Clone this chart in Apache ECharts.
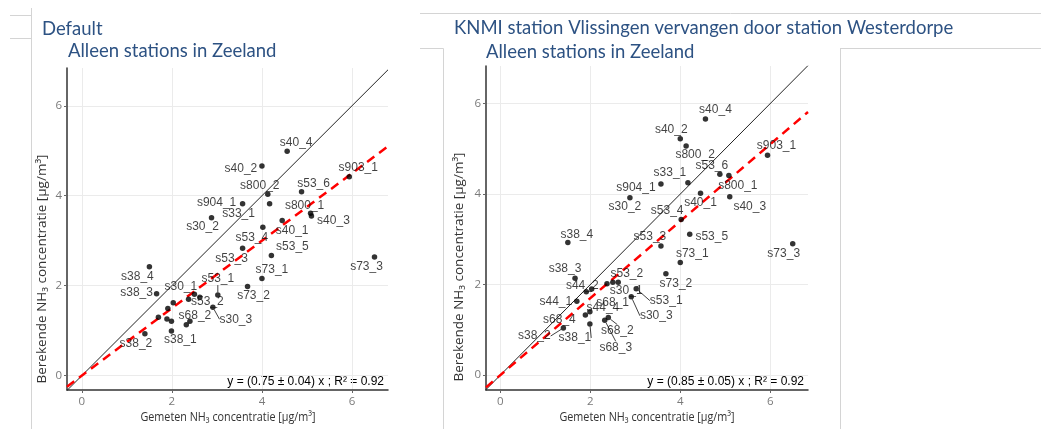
<!DOCTYPE html>
<html>
<head>
<meta charset="utf-8">
<title>NH3 Zeeland</title>
<script src="https://cdn.jsdelivr.net/npm/echarts@6/dist/echarts.min.js"></script>
<style>
html,body{margin:0;padding:0;background:#fff;}
#chart{width:1041px;height:429px;}
</style>
</head>
<body>
<div id="chart"></div>
<script>
// meetstations, zelfde volgorde in alle arrays
var stations = ['s40_4','s40_2','s903_1','s53_6','s800_2','s904_1','s33_1','s800_1','s40_3','s30_2','s40_1',
  's53_4','s53_3','s53_5','s73_3','s38_4','s73_1','s73_2','s38_3','s53_1','s53_2','s30_1','s44_3','s68_1',
  's30_3','s44_2','s44_1','s68_4','s44_4','s68_2','s68_3','s38_1','s38_2'];
// gemeten NH3 (x)
var gemeten = [4.56,4.00,5.94,4.88,4.13,3.57,4.17,5.08,5.10,2.88,4.45,
  4.02,3.57,4.21,6.50,1.50,4.00,3.68,1.66,3.02,2.50,2.62,2.37,2.03,
  2.91,1.91,1.70,1.89,1.99,2.40,2.32,1.99,1.40];
// berekend, default
var berekendDefault = [4.99,4.66,4.42,4.09,4.03,3.82,3.82,3.61,3.55,3.51,3.45,
  3.30,2.83,2.67,2.64,2.42,2.16,1.98,1.82,1.79,1.81,1.74,1.70,1.62,
  1.52,1.49,1.30,1.26,1.21,1.21,1.13,0.99,0.93];
// berekend, KNMI Westerdorpe
var berekendWesterdorpe = [5.66,5.22,4.86,4.44,5.06,4.22,4.25,4.41,3.94,3.92,4.02,
  3.44,2.85,3.11,2.90,2.93,2.49,2.24,2.14,1.91,2.05,2.05,2.02,1.90,
  1.73,1.84,1.63,1.33,1.40,1.27,1.21,1.13,1.04];
var tickValues = [0, 2, 4, 6];
var slopeDefault = 0.75;
var slopeWesterdorpe = 0.85;
var eqDefault = 'y = (0.75 \u00b1 0.04) x ; R\u00b2 = 0.92';
var eqWesterdorpe = 'y = (0.85 \u00b1 0.05) x ; R\u00b2 = 0.92';
var hiddenDefault = ['s44_3','s68_1','s44_2','s44_1','s68_4','s44_4','s68_3'];
var hiddenWesterdorpe = ['s44_3'];

// label verschuiving (ggrepel-achtig): [dx, dy, lijntje]
var nudgeDefault = {
  s40_4:[9,-9], s40_2:[-21,3], s903_1:[9,-9], s53_6:[12,-8], s800_2:[-8,-9], s904_1:[-26,-1],
  s33_1:[-31,10], s800_1:[-6,-8], s40_3:[22,5], s30_2:[-9,9], s40_1:[10,10], s53_4:[-11,10],
  s53_3:[-11,10], s53_5:[21,-9], s73_3:[-8,10], s38_4:[-12,10], s73_1:[10,-9], s73_2:[6,9],
  s38_3:[-20,-1], s53_1:[0,-16,1], s53_2:[13,7], s30_1:[-19,-11], s30_3:[23,12,1], s68_2:[5,-6],
  s38_2:[-9,10], s38_1:[9,9]
};
var nudgeWesterdorpe = {
  s40_4:[10,-9], s40_2:[-9,-9], s800_2:[9,9], s903_1:[9,-9], s53_6:[-8,-8], s800_1:[9,10],
  s33_1:[-18,-10], s904_1:[-25,4], s30_2:[-5,9], s40_1:[0,10], s40_3:[20,10], s53_4:[-14,-9],
  s53_5:[22,2], s38_4:[9,-8], s73_3:[-9,10], s53_3:[-11,-9], s73_1:[12,-9], s73_2:[10,10],
  s38_3:[-10,-10], s53_2:[14,-9], s30_1:[8,8], s53_1:[30,12,1], s44_2:[-4,-6], s30_3:[25,19,1],
  s44_1:[-21,0], s68_1:[21,14], s44_4:[13,-4], s68_4:[-26,5], s38_2:[-29,8,1], s38_1:[-15,14,1],
  s68_2:[9,13,1], s68_3:[11,27,1]
};

var chart = echarts.init(document.getElementById('chart'));
var ranges = [
  {xMin:-0.33, xMax:6.8, yMin:-0.32, yMax:6.84},
  {xMin:-0.32, xMax:6.84, yMin:-0.33, yMax:6.83}
];
var titleBlue = '#2d5283';
var labelFont = '"Liberation Sans", Arial, sans-serif';

function makeAxis(i, dir){
  var r = ranges[i];
  return {
    gridIndex: i, type: 'value',
    min: dir == 'x' ? r.xMin : r.yMin,
    max: dir == 'x' ? r.xMax : r.yMax,
    axisLine: {show: true, onZero: false, lineStyle: {color: '#333', width: 1.5}},
    axisTick: {show: true, customValues: tickValues, length: 3, lineStyle: {color: '#666'}},
    axisLabel: {customValues: tickValues, color: '#7a7a7a', fontSize: 11.5, margin: dir == 'x' ? 6 : 5,
      fontFamily: '"Open Sans", sans-serif'},
    splitLine: {show: false}
  };
}

function panelSeries(i, yValues, slope, hidden, nudge){
  var r = ranges[i];
  var pts = gemeten.map(function(x, k){
    var name = stations[k];
    var n = nudge[name];
    return {
      value: [x, yValues[k]], name: name,
      label: {show: hidden.indexOf(name) < 0},
      labelLine: {show: !!(n && n[2])}
    };
  });
  return [
    { // rasterlijnen
      type: 'line', xAxisIndex: i, yAxisIndex: i, data: [], z: 0, silent: true,
      markLine: {
        z: 0, silent: true, symbol: ['none','none'], label: {show: false}, animation: false,
        lineStyle: {color: '#ebebeb', width: 1, type: 'solid'},
        data: tickValues.map(function(v){ return {xAxis: v}; })
          .concat(tickValues.map(function(v){ return {yAxis: v}; }))
      }
    },
    { // 1:1 lijn
      type: 'line', xAxisIndex: i, yAxisIndex: i, z: 2, showSymbol: false, silent: true,
      data: [[r.xMin, r.xMin], [r.xMax, r.xMax]],
      lineStyle: {color: '#222', width: 1}
    },
    { // regressie
      type: 'line', xAxisIndex: i, yAxisIndex: i, z: 2, showSymbol: false, silent: true,
      data: [[r.xMin, r.xMin * slope], [r.xMax, r.xMax * slope]],
      lineStyle: {color: '#ff0000', width: 2.5, type: [9, 6]}
    },
    {
      type: 'scatter', xAxisIndex: i, yAxisIndex: i, z: 3,
      symbolSize: 5.5, itemStyle: {color: '#000'},
      data: pts,
      label: {position: 'inside', formatter: '{b}', color: '#111', fontSize: 12, fontFamily: labelFont,
        textBorderWidth: 0, textBorderColor: 'transparent'},
      labelLine: {show: false, lineStyle: {color: '#111', width: 0.8}},
      labelLayout: function(p){
        var n = nudge[stations[p.dataIndex]];
        return n ? {dx: n[0], dy: n[1]} : {};
      }
    }
  ];
}

function txt(x, y, s, style, extra){
  var el = {type: 'text', x: x, y: y, silent: true, style: Object.assign({text: s}, style)};
  return Object.assign(el, extra || {});
}
var titleStyle = {fill: titleBlue, font: '18.5px Lato, "Open Sans", sans-serif', verticalAlign: 'middle'};
var axisTitleStyle = {fill: '#333', font: '13.5px "Open Sans", sans-serif', align: 'center', verticalAlign: 'middle'};
var eqStyle = {fill: '#000', font: '12px ' + labelFont, align: 'right', verticalAlign: 'middle'};
var frame = {stroke: '#d4d4d4', lineWidth: 1};

var option = {
  animation: false,
  backgroundColor: '#fff',
  grid: [
    {left: 67, top: 68, width: 321, height: 322},
    {left: 486, top: 66, width: 322, height: 324}
  ],
  xAxis: [makeAxis(0, 'x'), makeAxis(1, 'x')],
  yAxis: [makeAxis(0, 'y'), makeAxis(1, 'y')],
  series: panelSeries(0, berekendDefault, slopeDefault, hiddenDefault, nudgeDefault)
    .concat(panelSeries(1, berekendWesterdorpe, slopeWesterdorpe, hiddenWesterdorpe, nudgeWesterdorpe)),
  graphic: [
    {type: 'line', shape: {x1: 31.5, y1: 8, x2: 31.5, y2: 429}, style: frame, silent: true},
    {type: 'line', shape: {x1: 10, y1: 15.5, x2: 31.5, y2: 15.5}, style: frame, silent: true},
    {type: 'line', shape: {x1: 10, y1: 38.5, x2: 31.5, y2: 38.5}, style: frame, silent: true},
    {type: 'line', shape: {x1: 420, y1: 13.5, x2: 1041, y2: 13.5}, style: frame, silent: true},
    {type: 'line', shape: {x1: 420, y1: 48.5, x2: 443.5, y2: 48.5}, style: frame, silent: true},
    {type: 'line', shape: {x1: 840, y1: 48.5, x2: 1041, y2: 48.5}, style: frame, silent: true},
    {type: 'line', shape: {x1: 443.5, y1: 48.5, x2: 443.5, y2: 429}, style: frame, silent: true},
    {type: 'line', shape: {x1: 840.5, y1: 48.5, x2: 840.5, y2: 429}, style: frame, silent: true},
    txt(42, 29, 'Default', titleStyle),
    txt(68, 51, 'Alleen stations in Zeeland', titleStyle),
    txt(454, 28, 'KNMI station Vlissingen vervangen door station Westerdorpe', titleStyle),
    txt(486, 52, 'Alleen stations in Zeeland', titleStyle),
    txt(42, 269, 'Berekende NH\u2083 concentratie [\u00b5g/m\u00b3]', axisTitleStyle, {rotation: Math.PI / 2}),
    txt(459, 267, 'Berekende NH\u2083 concentratie [\u00b5g/m\u00b3]', axisTitleStyle, {rotation: Math.PI / 2}),
    txt(228, 417, 'Gemeten NH\u2083 concentratie [\u00b5g/m\u00b3]', axisTitleStyle, {scaleX: 0.8}),
    txt(647, 417, 'Gemeten NH\u2083 concentratie [\u00b5g/m\u00b3]', axisTitleStyle, {scaleX: 0.8}),
    txt(384, 382, eqDefault, eqStyle),
    txt(804, 382, eqWesterdorpe, eqStyle)
  ]
};
chart.setOption(option);
window.addEventListener('resize', function(){ chart.resize(); });
</script>
</body>
</html>
